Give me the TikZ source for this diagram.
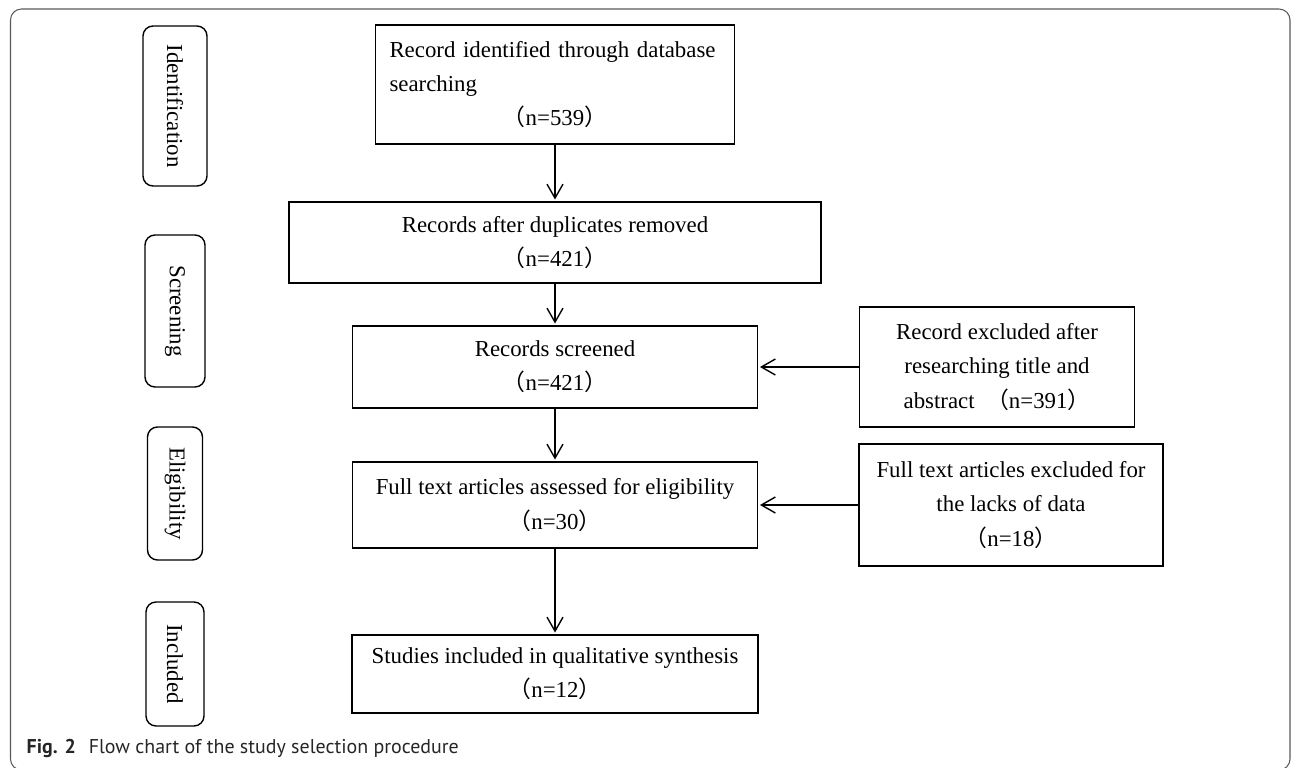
\documentclass[tikz,border=0pt]{standalone}
\usepackage{graphicx}
\usepackage{fontspec}
\setmainfont{Liberation Serif}
\newfontfamily\cjk{Noto Sans CJK SC}
\newfontfamily\capfont{PT Sans}
\usetikzlibrary{arrows.meta,positioning}

\newcommand{\nb}[1]{{\cjk （}n=#1{\cjk ）}}

\begin{document}
\begin{tikzpicture}[shorten >=1pt, on grid, line width=0.8pt,
                    >={Straight Barb[length=2.8mm,width=3.2mm]},
                    every node/.style = {font=\fontsize{13}{19.5}\selectfont},
                    box/.style   = {draw, align=center, inner sep=0pt},
                    phase/.style = {draw, rounded corners=0.2cm, inner sep=0pt}]
                \useasboundingbox (0,0) rectangle (25.84,-15.36);
                \draw[black!65, line width=0.6pt, rounded corners=0.22cm] (0.21,-0.18) rectangle (25.80,-15.40);

                % stages
                \node[phase, minimum width=1.28cm, minimum height=3.2cm]  (s_1) at (3.5,-2.12) {\rotatebox{-90}{Identification}};
                \node[phase, minimum width=1.2cm, minimum height=3.04cm, below = 4.10cm of s_1]  (s_2) {\rotatebox{-90}{Screening}};
                \node[phase, minimum width=1.1cm, minimum height=2.66cm, below = 3.65cm of s_2]  (s_3) {\rotatebox{-90}{Eligibility}};
                \node[phase, minimum width=1.16cm, minimum height=2.48cm, below = 3.41cm of s_3] (s_4) {\rotatebox{-90}{Included}};

                % main flow
                \node[box, minimum width=7.18cm, minimum height=2.38cm, text width=6.62cm, align=left] (p_1) at (11.1,-1.69)
                    {Record identified through database\\searching\\\makebox[\hsize]{\nb{539}}};
                \node[box, minimum width=10.64cm, minimum height=1.62cm, below = 3.16cm of p_1] (p_2) {Records after duplicates removed\\\nb{421}};
                \node[box, minimum width=8.1cm, minimum height=1.64cm, below = 2.49cm of p_2]   (p_3) {Records screened\\\nb{421}};
                \node[box, minimum width=8.1cm, minimum height=1.72cm, below = 2.76cm of p_3]   (p_4) {Full text articles assessed for eligibility\\\nb{30}};
                \node[box, minimum width=8.12cm, minimum height=1.56cm, below = 3.38cm of p_4]  (p_5) {Studies included in qualitative synthesis\\\nb{12}};

                % excluded
                \node[box, minimum width=5.5cm, minimum height=2.4cm, right = 8.84cm of p_3]  (x_1) {Record excluded after\\researching title and\\abstract\ \ \nb{391}};
                \node[box, minimum width=6.08cm, minimum height=2.44cm, right = 9.12cm of p_4] (x_2) {Full text articles excluded for\\the lacks of data\\\nb{18}};

                \draw[->]
                    (p_1) edge (p_2)
                    (p_2) edge (p_3)
                    (p_3) edge (p_4)
                    (p_4) edge (p_5)
                    (x_1) edge (p_3)
                    (x_2) edge (p_4)
                    ;

                \node[anchor=base west, inner sep=0pt, text=black!85, font=\capfont\fontsize{11.35}{13}\selectfont] (cap) at (0.52,-15.06)
                    {\textbf{Fig. 2}\hspace{0.26cm}Flow chart of the study selection procedure};
            \end{tikzpicture}
\end{document}
